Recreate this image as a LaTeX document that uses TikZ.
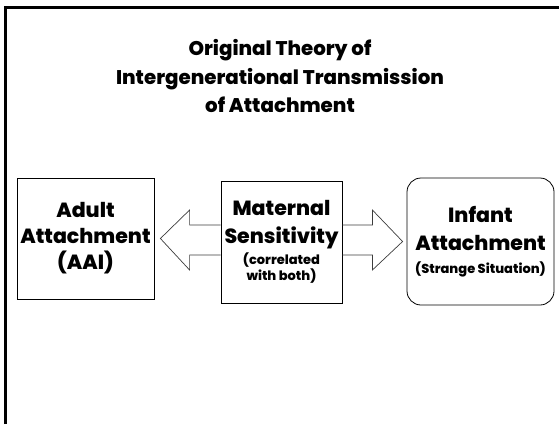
\documentclass[tikz,border=0pt]{standalone}
\usepackage{fontspec}
\setmainfont{Poppins}[BoldFont={Poppins ExtraBold}]
\usetikzlibrary{calc}
\definecolor{rahmen}{RGB}{0,0,0}
\definecolor{pfeil}{RGB}{60,60,60}
\newcommand{\gross}{\fontsize{20.5}{28}\selectfont\bfseries}
\newcommand{\klein}{\fontsize{13}{14}\selectfont\bfseries}

\begin{document}
\begin{tikzpicture}[x=1pt,y=-1pt,
  kasten/.style={draw=black,line width=0.8pt,align=center,inner sep=0pt,font=\gross}]
\useasboundingbox (0,0) rectangle (559,424);
%
% frame:
\draw[draw=rahmen,line width=3pt](5,424) -- (5,7) -- (559,7);
%
% title:
\node[align=center,font=\fontsize{19.8}{28.5}\selectfont\bfseries] (titel) at (280,76)
  {Original Theory of\\Intergenerational Transmission\\of Attachment};
%
% boxes:
\node[kasten,minimum width=137,minimum height=121] (adult) at (85.5,238.5)
  {Adult\\[-2pt]Attachment\\[-2pt](AAI)};
\node[kasten,minimum width=121,minimum height=122] (maternal) at (281.5,242)
  {Maternal\\Sensitivity\\[-7pt]{\klein (correlated}\\[-12pt]{\klein with both)}};
\node[kasten,rounded corners=14,minimum width=147,minimum height=127] (infant) at (480.5,241.5)
  {Infant\\Attachment\\[-5pt]{\klein (Strange Situation)}};
%
% path: left arrow
\draw[draw=pfeil,line width=0.7pt]($(maternal.west)+(0,-17)$) -- ++(-31,0) -- ++(0,-15)
  -- ($(adult.east)+(6,0)$) -- ($(maternal.west)+(-31,28)$) -- ++(0,-15) -- ++(31,0);
%
% path: right arrow
\draw[draw=pfeil,line width=0.7pt]($(maternal.east)+(0,-17)$) -- ++(30,0) -- ++(0,-15)
  -- ($(infant.west)+(-4,0)$) -- ($(maternal.east)+(30,28)$) -- ++(0,-15) -- ++(-30,0);
\end{tikzpicture}
\end{document}
